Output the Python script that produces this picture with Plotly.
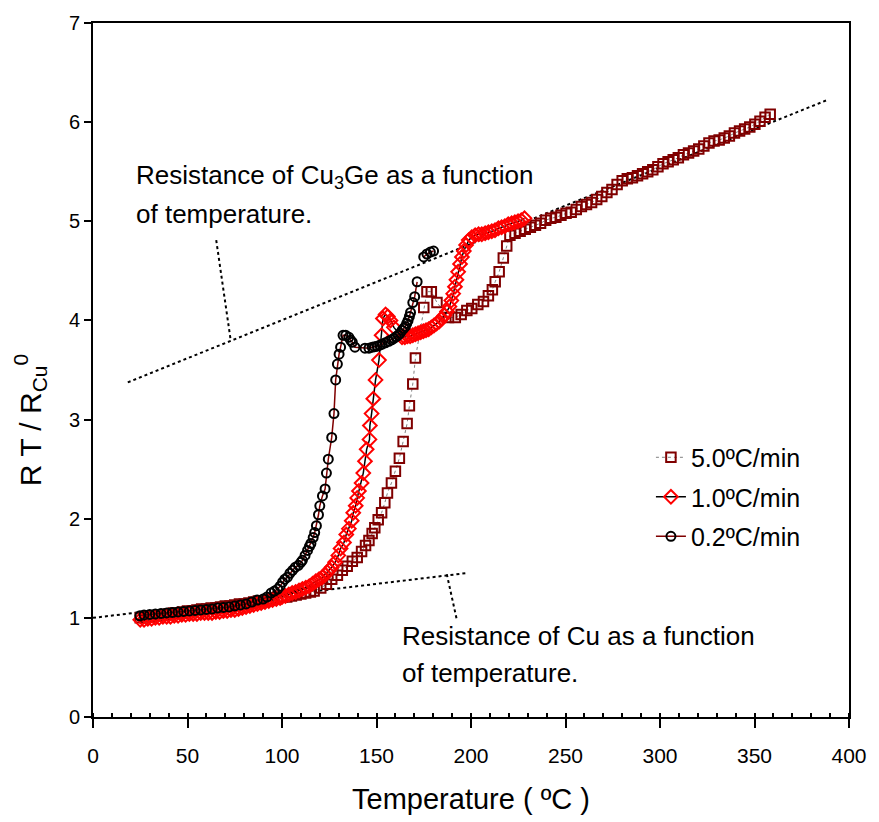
import plotly.graph_objects as go

# ---------------- data ----------------
# 5.0 C/min  (dark red open squares)
t_50 = [25, 27.5, 30, 32.5, 35, 37.5, 40, 42.5, 45, 47.5, 50, 52.5, 55, 57.5, 60, 62.5,
        65, 67.5, 70, 72.5, 75, 77.5, 80, 82.5, 85, 87.5, 90, 92.5, 95, 97.5, 100, 102.5,
        105, 107.5, 110, 112.5, 115, 117.0, 120.5, 123.5, 126.3, 129.3, 131.9, 134.5,
        137.2, 139.8, 142.1, 144.2, 146.0, 147.7, 149.1, 150.9, 152.7, 154.4, 155.8, 157.9,
        160.0, 162.1, 164.1, 166.2, 167.4, 169.2, 170.6, 175.0, 176.7, 179.0, 182.0, 188.1,
        191.7, 194.8, 197.8, 200.4, 203.6, 206.6, 209.2, 211.3, 212.8, 214.9, 217.1, 218.9,
        220.6, 223.3, 226.0, 228.7, 231.4, 234.1, 236.8, 239.5, 242.2, 244.9, 247.6, 250.3,
        253.0, 255.7, 258.4, 261.1, 263.8, 266.5, 269.2, 271.9, 274.6, 277.3, 280.0, 282.7,
        285.4, 288.1, 290.8, 293.5, 296.2, 298.9, 301.6, 304.3, 307.0, 309.7, 312.4, 315.1,
        317.8, 320.5, 323.2, 325.9, 328.6, 331.3, 334.0, 336.7, 339.4, 342.1, 344.8, 347.5,
        350.2, 352.9, 355.6, 358.3]
r_50 = [1.00, 1.01, 1.01, 1.02, 1.03, 1.03, 1.04, 1.05, 1.05, 1.06, 1.07, 1.07, 1.08, 1.09,
        1.09, 1.10, 1.10, 1.11, 1.12, 1.12, 1.13, 1.14, 1.14, 1.15, 1.16, 1.17, 1.17, 1.18,
        1.19, 1.20, 1.21, 1.21, 1.22, 1.23, 1.24, 1.25, 1.26, 1.27, 1.30, 1.34, 1.39, 1.43,
        1.48, 1.52, 1.57, 1.61, 1.67, 1.73, 1.78, 1.85, 1.91, 1.99, 2.06, 2.16, 2.26, 2.36,
        2.48, 2.61, 2.78, 2.96, 3.14, 3.36, 3.62, 4.13, 4.29, 4.29, 4.18, 4.03, 4.03, 4.06,
        4.10, 4.12, 4.16, 4.19, 4.25, 4.31, 4.39, 4.49, 4.63, 4.75, 4.86, 4.88, 4.90, 4.92,
        4.94, 4.96, 4.98, 5.01, 5.03, 5.04, 5.06, 5.08, 5.09, 5.12, 5.15, 5.17, 5.19, 5.22,
        5.25, 5.29, 5.32, 5.37, 5.41, 5.43, 5.44, 5.46, 5.48, 5.50, 5.52, 5.55, 5.58, 5.60,
        5.62, 5.64, 5.67, 5.69, 5.71, 5.73, 5.76, 5.79, 5.81, 5.82, 5.84, 5.86, 5.89, 5.91,
        5.93, 5.95, 5.98, 6.01, 6.05, 6.08]

# 1.0 C/min  (red open diamonds)
t_10 = [25, 27, 29, 31, 33, 35, 37, 39, 41, 43, 45, 47, 49, 51, 53, 55, 57, 59, 61, 63, 65,
        67, 69, 71, 73, 75, 77, 79, 81, 83, 85, 87, 89, 91, 93, 95, 97, 99, 100.0, 101.8,
        103.6, 105.4, 107.2, 109.0, 110.8, 112.6, 114.4, 116.2, 117.9, 119.6, 121.4, 122.7,
        124.0, 125.2, 126.3, 128.1, 129.8, 131.0, 132.8, 134.0, 135.4, 136.9, 137.7, 139.0,
        139.8, 140.7, 142.1, 143.0, 143.9, 144.8, 146.3, 146.5, 147.4, 148.3, 149.5, 151.3,
        152.7, 153.4, 154.8, 156.0, 157.4, 159.2, 163.5, 165.0, 166.4, 167.8, 169.2, 170.6,
        172.0, 173.4, 174.8, 176.2, 177.6, 179.0, 180.4, 181.8, 183.2, 184.6, 185.9, 187.3,
        188.6, 189.6, 190.6, 191.5, 192.3, 193.2, 194.2, 195.2, 196.2, 197.4, 198.8, 200.4,
        202.2, 204.0, 205.7, 207.5, 209.2, 211.0, 212.7, 214.5, 216.2, 217.9, 219.7, 221.5,
        223.2, 224.9, 226.6, 228.3]
r_10 = [0.98, 0.98, 0.99, 0.99, 1.00, 1.00, 1.01, 1.01, 1.01, 1.02, 1.02, 1.03, 1.03, 1.04,
        1.04, 1.04, 1.05, 1.05, 1.05, 1.05, 1.06, 1.06, 1.07, 1.07, 1.08, 1.08, 1.09, 1.10,
        1.11, 1.12, 1.13, 1.14, 1.15, 1.16, 1.17, 1.18, 1.19, 1.20, 1.21, 1.22, 1.235, 1.25,
        1.26, 1.275, 1.29, 1.305, 1.32, 1.345, 1.37, 1.39, 1.41, 1.435, 1.46, 1.485, 1.51,
        1.56, 1.63, 1.70, 1.76, 1.84, 1.90, 1.98, 2.06, 2.13, 2.21, 2.28, 2.36, 2.46, 2.58,
        2.70, 2.80, 2.94, 3.06, 3.21, 3.40, 3.60, 3.85, 4.02, 4.06, 4.04, 4.00, 3.93, 3.83,
        3.83, 3.84, 3.84, 3.85, 3.86, 3.87, 3.88, 3.89, 3.90, 3.91, 3.93, 3.95, 3.97, 3.99,
        4.02, 4.05, 4.09, 4.14, 4.20, 4.27, 4.34, 4.41, 4.49, 4.57, 4.64, 4.70, 4.76, 4.81,
        4.84, 4.86, 4.87, 4.87, 4.88, 4.89, 4.90, 4.91, 4.93, 4.94, 4.95, 4.97, 4.98, 4.99,
        5.00, 5.01, 5.03]

# 0.2 C/min  (black open circles); None marks the break before the last cluster
t_02 = [24.8, 27, 30, 33, 36, 39, 42, 45, 48, 51, 54, 57, 60, 63, 66, 69, 72, 75, 78, 81,
        84, 87, 90, 92, 94.2, 96, 97.7, 99, 100.3, 101.5, 102.9, 104.2, 105.6, 107, 108.7,
        110, 110.8, 112.2, 113.5, 114.5, 115.3, 116.5, 117.3, 118.2, 119.3, 120.0, 121.4,
        122.8, 123.5, 124.5, 126.3, 127.5, 128.4, 129.3, 130.2, 131.0, 132.3, 133.7, 135.4,
        136.3, 137.2, 138.6, 143.9, 146.0, 147.7, 149.0, 150.4, 151.7, 153.0, 154.7, 156.5,
        158.0, 159.2, 160.3, 161.4, 162.5, 163.5, 164.5, 165.3, 166.0, 166.7, 167.4, 168.0,
        169.2, 170.2, 171.5, None, 175.0, 176.7, 178.5, 180.2]
r_02 = [1.02, 1.03, 1.035, 1.04, 1.045, 1.05, 1.055, 1.06, 1.065, 1.07, 1.075, 1.08, 1.085,
        1.09, 1.10, 1.105, 1.11, 1.12, 1.13, 1.14, 1.16, 1.18, 1.19, 1.21, 1.25, 1.27, 1.29,
        1.32, 1.36, 1.39, 1.41, 1.45, 1.48, 1.51, 1.53, 1.56, 1.58, 1.63, 1.68, 1.72, 1.75,
        1.81, 1.86, 1.93, 2.04, 2.13, 2.23, 2.30, 2.46, 2.60, 2.82, 3.06, 3.40, 3.56, 3.66,
        3.73, 3.85, 3.85, 3.83, 3.80, 3.78, 3.73, 3.72, 3.72, 3.73, 3.735, 3.74, 3.75, 3.76,
        3.775, 3.79, 3.805, 3.82, 3.835, 3.85, 3.87, 3.90, 3.92, 3.94, 3.97, 4.00, 4.04,
        4.08, 4.18, 4.24, 4.39, None, 4.64, 4.67, 4.69, 4.70]

# reference lines and their leader lines
cu3ge_t = [18.4, 388.0]
cu3ge_r = [3.375, 6.22]
cu_t = [0, 197]
cu_r = [1.0, 1.45]
lead_cu3ge_t = [65.2, 72.7]
lead_cu3ge_r = [4.81, 3.82]
lead_cu_t = [187.2, 192.5]
lead_cu_r = [1.44, 0.98]

series_names = ["5.0ºC/min", "1.0ºC/min", "0.2ºC/min"]
x_ticks = [0, 50, 100, 150, 200, 250, 300, 350, 400]
y_ticks = [0, 1, 2, 3, 4, 5, 6, 7]

# ---------------- figure ----------------
DARKRED = "#800000"
RED = "#FF0000"
BASE = "Liberation Sans, Arial, sans-serif"
NARROW = "Liberation Sans Narrow, Arial Narrow, Liberation Sans, Arial, sans-serif"

fig = go.Figure()

for tx, ry in [(cu3ge_t, cu3ge_r), (cu_t, cu_r), (lead_cu3ge_t, lead_cu3ge_r), (lead_cu_t, lead_cu_r)]:
    fig.add_trace(go.Scatter(x=tx, y=ry, mode="lines", showlegend=False, hoverinfo="skip",
                             line=dict(color="black", width=2, dash="dot")))

fig.add_trace(go.Scatter(
    x=t_50, y=r_50, mode="lines+markers", name=series_names[0], legendgroup="a",
    line=dict(color="#808080", width=1, dash="dot"),
    marker=dict(symbol="square-open", size=9.5, color=DARKRED, line=dict(width=2, color=DARKRED))))
fig.add_trace(go.Scatter(
    x=t_10, y=r_10, mode="lines+markers", name=series_names[1], legendgroup="b",
    line=dict(color="black", width=1.5),
    marker=dict(symbol="diamond-open", size=10.5, color=RED, line=dict(width=2, color=RED))))
fig.add_trace(go.Scatter(
    x=t_02, y=r_02, mode="lines+markers", name=series_names[2], legendgroup="c",
    connectgaps=False,
    line=dict(color=DARKRED, width=1.5),
    marker=dict(symbol="circle-open", size=9, color="black", line=dict(width=2, color="black"))))

annos = [
    dict(x=21.8, y=5.45, text="Resistance of Cu<sub>3</sub>Ge as a function"),
    dict(x=21.8, y=5.07, text="of temperature."),
    dict(x=162.6, y=0.82, text="Resistance of Cu as a function"),
    dict(x=162.6, y=0.44, text="of temperature."),
]
for a in annos:
    fig.add_annotation(x=a["x"], y=a["y"], text=a["text"], xref="x", yref="y",
                       xanchor="left", yanchor="middle", showarrow=False,
                       font=dict(family=BASE, size=26, color="black"))

fig.add_annotation(x=-0.083, y=0.428, xref="paper", yref="paper",
                   text="R T / R<sub>Cu</sub><sup>0</sup>", textangle=-90, showarrow=False,
                   xanchor="center", yanchor="middle",
                   font=dict(family=BASE, size=30, color="black"))

fig.update_layout(
    width=879, height=822,
    margin=dict(l=93, r=27, t=19, b=102),
    paper_bgcolor="white", plot_bgcolor="white",
    font=dict(family=BASE, color="black"),
    legend=dict(x=0.738, y=0.407, xanchor="left", yanchor="top",
                font=dict(family=BASE, size=25, color="black"),
                bgcolor="rgba(0,0,0,0)", tracegroupgap=4),
)
fig.update_xaxes(
    range=[0, 400], tickvals=x_ticks, ticks="outside", ticklen=9, tickwidth=2,
    tickcolor="black", showline=True, linewidth=2, linecolor="black", mirror=True,
    showgrid=False, zeroline=False, ticklabelstandoff=10,
    tickfont=dict(family=NARROW, size=21, color="black"),
    minor=dict(dtick=10, ticks="inside", ticklen=4, tickwidth=1.5, tickcolor="black"),
    title=dict(text="Temperature ( ºC )", font=dict(family=NARROW, size=29, color="black"),
               standoff=22),
)
fig.update_yaxes(
    range=[0, 7], tickvals=y_ticks, ticks="outside", ticklen=7, tickwidth=2,
    tickcolor="black", showline=True, linewidth=2, linecolor="black", mirror=True,
    showgrid=False, zeroline=False, ticklabelstandoff=0,
    tickfont=dict(family=BASE, size=20, color="black"),
)

fig.write_html("out.html")
